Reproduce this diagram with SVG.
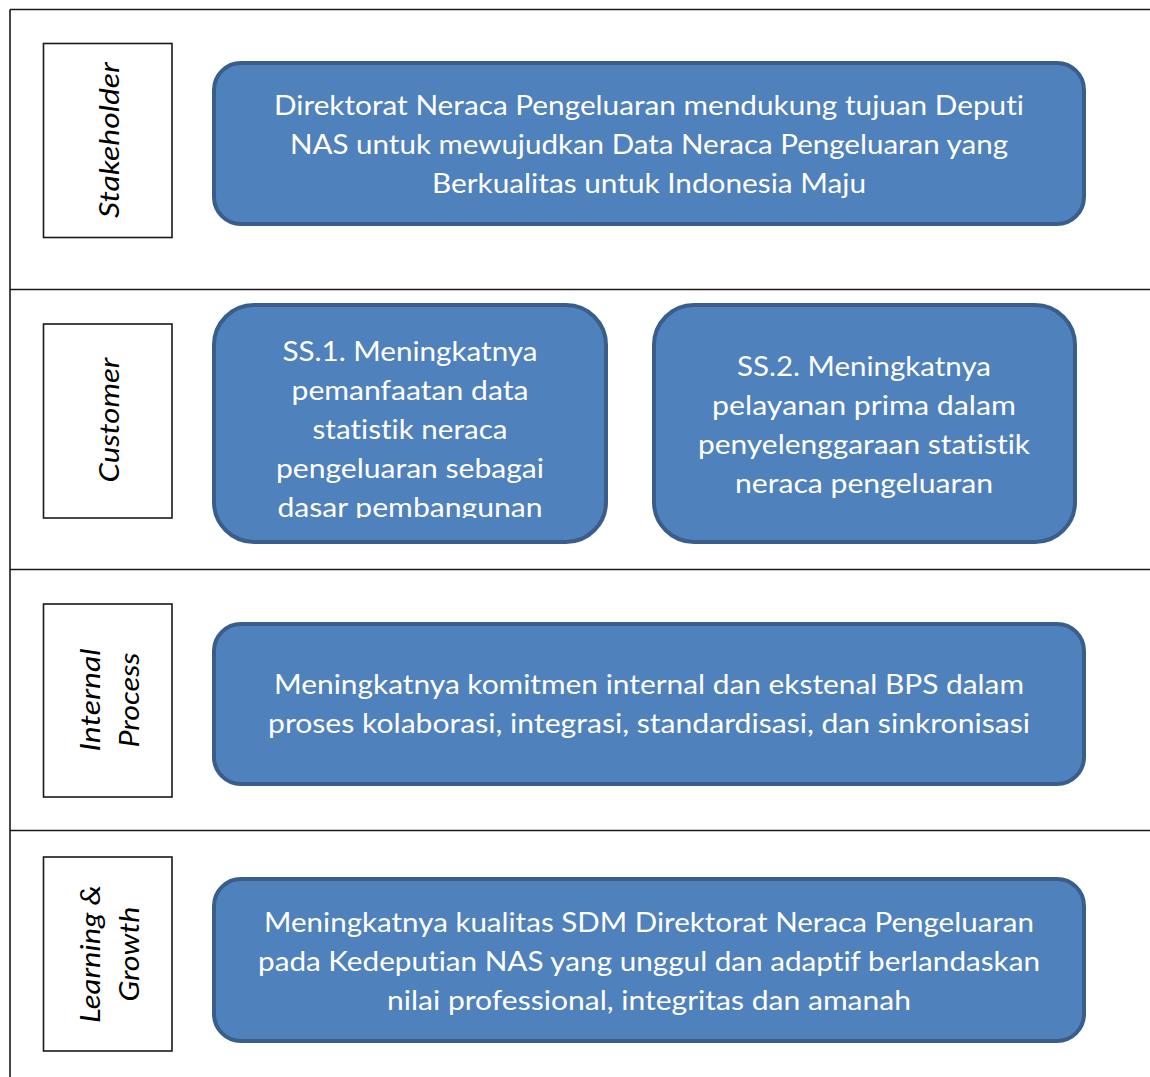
<svg xmlns="http://www.w3.org/2000/svg" width="1150" height="1077" viewBox="0 0 1150 1077">
<style>
.frame{stroke:#1a1a1a;stroke-width:1.6;fill:none}
.lbl{fill:#fff;stroke:#1a1a1a;stroke-width:1.6}
.lt{font-family:Lato,"Liberation Sans",sans-serif;font-style:italic;font-size:27px;fill:#000;text-anchor:middle;font-variant-ligatures:none;font-feature-settings:"liga" 0,"clig" 0,"dlig" 0}
.box{fill:#4f81bd;stroke:#395e8c;stroke-width:4}
.bt{font-family:Lato,"Liberation Sans",sans-serif;font-size:27px;fill:#fff;text-anchor:middle;font-variant-ligatures:none;font-feature-settings:"liga" 0,"clig" 0,"dlig" 0}
</style>
<defs>
<clipPath id="clipSS1"><rect x="214" y="305" width="392" height="213"/></clipPath>
</defs>
<rect width="1150" height="1077" fill="#fff"/>
<g id="frame">
<path class="frame" d="M10,9.5 H1150 M10,9.5 V1077 M10,289.5 H1150 M10,569.5 H1150 M10,830.5 H1150"/>
</g>
<g id="lbl-stakeholder">
<rect class="lbl" x="43.5" y="43.5" width="128.5" height="194"/>
<text class="lt" transform="translate(119,140) rotate(-90)" textLength="156" lengthAdjust="spacingAndGlyphs">Stakeholder</text>
</g>
<g id="lbl-customer">
<rect class="lbl" x="43.5" y="324" width="128.5" height="194"/>
<text class="lt" transform="translate(119,420) rotate(-90)" textLength="125" lengthAdjust="spacingAndGlyphs">Customer</text>
</g>
<g id="lbl-internal">
<rect class="lbl" x="43.5" y="604" width="128.5" height="193"/>
<text class="lt" transform="translate(100,700) rotate(-90)" textLength="103" lengthAdjust="spacingAndGlyphs">Internal</text>
<text class="lt" transform="translate(139,700) rotate(-90)" textLength="95" lengthAdjust="spacingAndGlyphs">Process</text>
</g>
<g id="lbl-learning">
<rect class="lbl" x="43.5" y="857" width="128.5" height="194"/>
<text class="lt" transform="translate(100,954) rotate(-90)" textLength="138" lengthAdjust="spacingAndGlyphs">Learning &amp;</text>
<text class="lt" transform="translate(139,954) rotate(-90)" textLength="95" lengthAdjust="spacingAndGlyphs">Growth</text>
</g>
<g id="node-stakeholder">
<rect class="box" x="214" y="63" width="870" height="161" rx="27"/>
<text class="bt" x="649" y="115" textLength="750" lengthAdjust="spacingAndGlyphs">Direktorat Neraca Pengeluaran mendukung tujuan Deputi</text>
<text class="bt" x="649" y="154" textLength="718" lengthAdjust="spacingAndGlyphs">NAS untuk mewujudkan Data Neraca Pengeluaran yang</text>
<text class="bt" x="649" y="193" textLength="434" lengthAdjust="spacingAndGlyphs">Berkualitas untuk Indonesia Maju</text>
</g>
<g id="node-ss1">
<rect class="box" x="214" y="305" width="392" height="237" rx="40"/>
<g clip-path="url(#clipSS1)">
<text class="bt" x="410" y="361" textLength="255" lengthAdjust="spacingAndGlyphs">SS.1. Meningkatnya</text>
<text class="bt" x="410" y="400" textLength="237" lengthAdjust="spacingAndGlyphs">pemanfaatan data</text>
<text class="bt" x="410" y="439" textLength="195" lengthAdjust="spacingAndGlyphs">statistik neraca</text>
<text class="bt" x="410" y="478" textLength="268" lengthAdjust="spacingAndGlyphs">pengeluaran sebagai</text>
<text class="bt" x="410" y="517" textLength="265" lengthAdjust="spacingAndGlyphs">dasar pembangunan</text>
</g>
</g>
<g id="node-ss2">
<rect class="box" x="654" y="305" width="421" height="237" rx="40"/>
<text class="bt" x="864" y="376" textLength="254" lengthAdjust="spacingAndGlyphs">SS.2. Meningkatnya</text>
<text class="bt" x="864" y="415" textLength="304" lengthAdjust="spacingAndGlyphs">pelayanan prima dalam</text>
<text class="bt" x="864" y="454" textLength="332" lengthAdjust="spacingAndGlyphs">penyelenggaraan statistik</text>
<text class="bt" x="864" y="493" textLength="258" lengthAdjust="spacingAndGlyphs">neraca pengeluaran</text>
</g>
<g id="node-internal">
<rect class="box" x="214" y="624" width="870" height="160" rx="27"/>
<text class="bt" x="649" y="694" textLength="750" lengthAdjust="spacingAndGlyphs">Meningkatnya komitmen internal dan ekstenal BPS dalam</text>
<text class="bt" x="649" y="733" textLength="762" lengthAdjust="spacingAndGlyphs">proses kolaborasi, integrasi, standardisasi, dan sinkronisasi</text>
</g>
<g id="node-learning">
<rect class="box" x="214" y="879" width="870" height="162" rx="27"/>
<text class="bt" x="649" y="932" textLength="770" lengthAdjust="spacingAndGlyphs">Meningkatnya kualitas SDM Direktorat Neraca Pengeluaran</text>
<text class="bt" x="649" y="971" textLength="782" lengthAdjust="spacingAndGlyphs">pada Kedeputian NAS yang unggul dan adaptif berlandaskan</text>
<text class="bt" x="649" y="1010" textLength="524" lengthAdjust="spacingAndGlyphs">nilai professional, integritas dan amanah</text>
</g>
<g id="connectors"></g>
</svg>
